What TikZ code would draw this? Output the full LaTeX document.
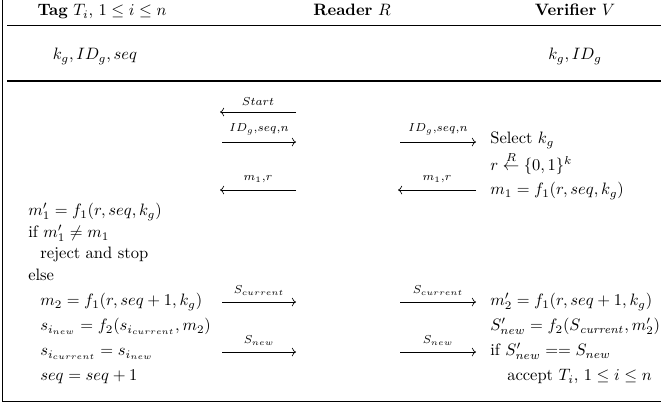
\documentclass[tikz,border=0pt]{standalone}
\usetikzlibrary{arrows.meta}
\begin{document}
\begin{tikzpicture}[x=0.606pt,y=-0.606pt,
  txt/.style={inner sep=0pt, anchor=mid west},
  ctr/.style={inner sep=0pt, anchor=mid},
  rulebar/.style={line width=0.45pt},
  msg/.style={line width=0.4pt, -{Computer Modern Rightarrow}},
  lbl/.style={font=\scriptsize, inner sep=0pt, above=4pt}]
\useasboundingbox (0,0) rectangle (661,409);
% frame and rules
\coordinate (tl) at (2,0);
\coordinate (bl) at (2,401);
\coordinate (br) at (661,401);
\draw[rulebar] (tl) -- (bl) -- (br);
\coordinate (r1a) at (7,25);
\coordinate (r1b) at (661,25);
\draw[rulebar] (r1a) -- (r1b);
\coordinate (r2a) at (7,80);
\coordinate (r2b) at (661,80);
\coordinate (r3a) at (7,81.6);
\coordinate (r3b) at (661,81.6);
\draw[rulebar] (r2a) -- (r2b);
\draw[rulebar] (r3a) -- (r3b);
% headers
\node[ctr] (hT) at (102,12) {\textbf{Tag} $T_i$, $1 \le i \le n$};
\node[ctr] (hR) at (352,12) {\textbf{Reader} $R$};
\node[ctr] (hV) at (575,12) {\textbf{Verifier} $V$};
\node[ctr] (kT) at (95,56) {$k_g, ID_g, seq$};
\node[ctr] (kV) at (575,56) {$k_g, ID_g$};
% tag column
\node[txt] (t1) at (28,212) {$m'_1 = f_1(r, seq, k_g)$};
\node[txt] (t2) at (28,234) {if $m'_1 \neq m_1$};
\node[txt] (t3) at (40,255) {reject and stop};
\node[txt] (t4) at (28,277) {else};
\node[txt] (t5) at (40,302) {$m_2 = f_1(r, seq+1, k_g)$};
\node[txt] (t6) at (40,327) {$s_{i_{new}} = f_2(s_{i_{current}}, m_2)$};
\node[txt] (t7) at (40,352) {$s_{i_{current}} = s_{i_{new}}$};
\node[txt] (t8) at (40,377) {$seq = seq+1$};
% verifier column
\node[txt] (v1) at (490,140) {Select $k_g$};
\node[txt] (v2) at (490,167) {$r \stackrel{R}{\leftarrow} \{0,1\}^k$};
\node[txt] (v3) at (490,191) {$m_1 = f_1(r, seq, k_g)$};
\node[txt] (v4) at (490,302) {$m'_2 = f_1(r, seq+1, k_g)$};
\node[txt] (v5) at (490,327) {$S'_{new} = f_2(S_{\mathit{current}}, m'_2)$};
\node[txt] (v6) at (490,352) {if $S'_{new} == S_{new}$};
\node[txt] (v7) at (507,377) {accept $T_i$, $1 \le i \le n$};
% message arrows, left pair (tag - reader)
\coordinate (a1l) at (220,112); \coordinate (a1r) at (296,112);
\draw[msg] (a1r) -- node[lbl] {$Start$} (a1l);
\coordinate (a2l) at (222,142); \coordinate (a2r) at (296,142);
\draw[msg] (a2l) -- node[lbl] {$ID_g{,}seq{,}n$} (a2r);
\coordinate (a3l) at (220,190); \coordinate (a3r) at (296,190);
\draw[msg] (a3r) -- node[lbl] {$m_1{,}r$} (a3l);
\coordinate (a4l) at (222,302); \coordinate (a4r) at (296,302);
\draw[msg] (a4l) -- node[lbl] {$S_{current}$} (a4r);
\coordinate (a5l) at (222,352); \coordinate (a5r) at (296,352);
\draw[msg] (a5l) -- node[lbl] {$S_{new}$} (a5r);
% message arrows, right pair (reader - verifier)
\coordinate (b2l) at (400,142); \coordinate (b2r) at (476,142);
\draw[msg] (b2l) -- node[lbl] {$ID_g{,}seq{,}n$} (b2r);
\coordinate (b3l) at (398,190); \coordinate (b3r) at (476,190);
\draw[msg] (b3r) -- node[lbl] {$m_1{,}r$} (b3l);
\coordinate (b4l) at (400,302); \coordinate (b4r) at (476,302);
\draw[msg] (b4l) -- node[lbl] {$S_{current}$} (b4r);
\coordinate (b5l) at (400,352); \coordinate (b5r) at (476,352);
\draw[msg] (b5l) -- node[lbl] {$S_{new}$} (b5r);
\end{tikzpicture}
\end{document}
